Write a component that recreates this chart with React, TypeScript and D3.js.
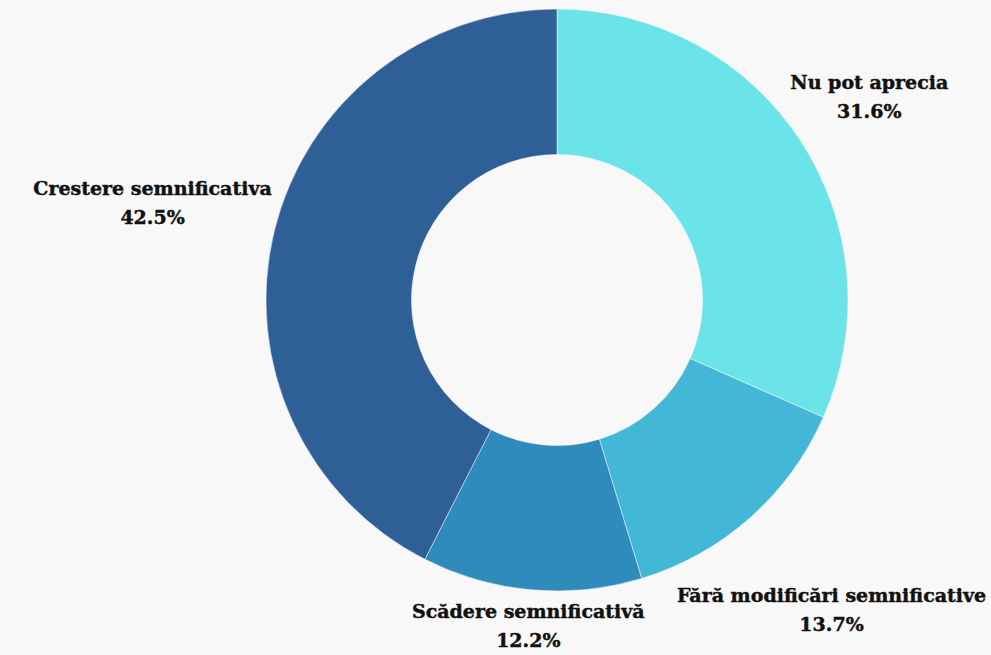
import React, { useEffect, useRef } from "react";
import * as d3 from "d3";

const categories = ["Nu pot aprecia", "Fără modificări semnificative", "Scădere semnificativă", "Crestere semnificativa"];
const values = [31.6, 13.7, 12.2, 42.5];
const colors = ["#6ae4e8", "#42b8d6", "#2e8bbb", "#2e5f97"];

const W = 991;
const H = 655;

export default function App() {
  const ref = useRef<SVGSVGElement | null>(null);

  useEffect(() => {
    document.body.style.margin = "0";
    const svg = d3.select(ref.current);
    svg.selectAll("*").remove();

    svg.append("rect").attr("width", W).attr("height", H).attr("fill", "#f8f8f8");

    const cx = 557, cy = 300, rOuter = 291, rInner = 145.5;
    const g = svg.append("g").attr("transform", `translate(${cx},${cy})`);

    const data = categories.map((c, i) => ({ c, v: values[i], color: colors[i] }));
    const pie = d3.pie<any>().value((d: any) => d.v).sort(null);
    const arcs = pie(data);
    const arc = d3.arc<any>().innerRadius(rInner).outerRadius(rOuter);

    g.selectAll("path.slice")
      .data(arcs)
      .enter()
      .append("path")
      .attr("class", "slice")
      .attr("d", arc as any)
      .attr("fill", (d: any) => d.data.color)
      .attr("stroke", "#f8f8f8")
      .attr("stroke-width", 0.5);

    const fontSize = 19;
    const lineH = 29;
    const labelDist = 295;
    const capH = 0.73 * fontSize;

    arcs.forEach((a: any) => {
      const lg = g.append("g");
      const t = lg
        .append("text")
        .attr("text-anchor", "middle")
        .attr("font-family", "'DejaVu Serif', serif")
        .attr("font-weight", 900)
        .attr("font-size", fontSize)
        .attr("fill", "#111")
        .attr("stroke", "#111")
        .attr("stroke-width", 0.45);
      t.append("tspan").attr("x", 0).attr("y", 0).text(a.data.c);
      t.append("tspan").attr("x", 0).attr("y", lineH).text(`${a.data.v}%`);
      const bb = (t.node() as SVGTextElement).getBBox();
      const hw = bb.width / 2;
      const hh = (lineH + capH) / 2;
      const mid = (a.startAngle + a.endAngle) / 2;
      const dx = Math.sin(mid), dy = -Math.cos(mid);
      const support = hw * Math.abs(dx) + hh * Math.abs(dy);
      const dist = labelDist + support;
      const px = dx * dist, py = dy * dist;
      const bcx = bb.x + hw;
      const bcy = (lineH - capH) / 2;
      lg.attr("transform", `translate(${px - bcx},${py - bcy})`);
    });
  }, []);

  return <svg ref={ref} width={W} height={H} style={{ display: "block" }} />;
}
